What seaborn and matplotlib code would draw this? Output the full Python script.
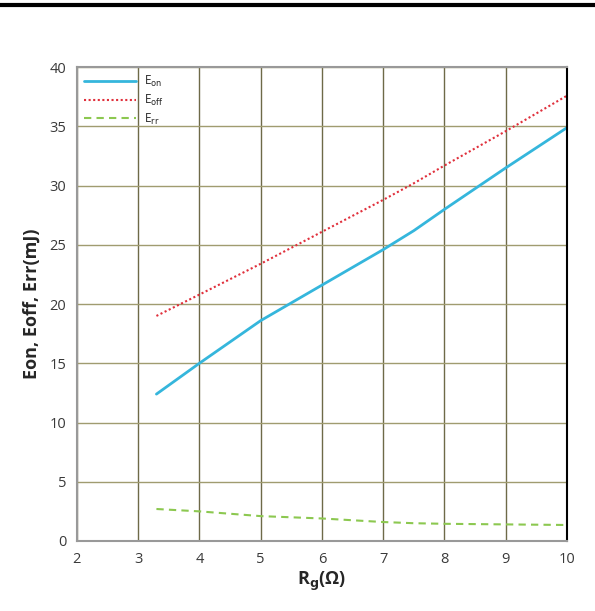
import matplotlib
matplotlib.use("Agg")
import seaborn as sns
import matplotlib.pyplot as plt
from matplotlib.lines import Line2D

# データ
rg = [3.3, 4, 5, 6, 7, 7.5, 8, 9, 10]
eon = [12.4, 15.0, 18.6, 21.6, 24.6, 26.2, 28.0, 31.5, 34.9]
eoff = [19.0, 20.8, 23.4, 26.1, 28.8, 30.2, 31.7, 34.6, 37.6]
err = [2.7, 2.5, 2.1, 1.9, 1.6, 1.5, 1.45, 1.4, 1.35]
x_ticks = [2, 3, 4, 5, 6, 7, 8, 9, 10]
y_ticks = [0, 5, 10, 15, 20, 25, 30, 35, 40]

sns.set_style("white")
plt.rcParams['font.family'] = ['Open Sans', 'DejaVu Sans']

fig = plt.figure(figsize=(5.95, 6.11), dpi=100)
ax = fig.add_axes([0.129, 0.1146, 0.824, 0.7754])

sns.lineplot(x=rg, y=eon, ax=ax, color='#35b6dc', lw=2.0, label='E$_{\\mathrm{on}}$')
sns.lineplot(x=rg, y=eoff, ax=ax, color='#e0303c', lw=1.5, label='E$_{\\mathrm{off}}$')
sns.lineplot(x=rg, y=err, ax=ax, color='#8cc850', lw=1.5, label='E$_{\\mathrm{rr}}$')
ax.lines[1].set_linestyle((0, (1, 1.2)))
ax.lines[2].set_linestyle((0, (3.5, 2.5)))

ax.set_xlim(2, 10)
ax.set_ylim(0, 40)
ax.set_xticks(x_ticks)
ax.set_yticks(y_ticks)
ax.tick_params(axis='both', labelsize=10.5, labelcolor='#3a3a3a', length=4,
               color='#999999', direction='out', width=0.8)
ax.tick_params(axis='x', length=0, pad=8)

# グリッド
ax.grid(True, axis='x', color='#6e6a48', lw=1.0)
ax.grid(True, axis='y', color='#a09c70', lw=1.0)
ax.set_axisbelow(True)
for side in ['left', 'top', 'bottom']:
    ax.spines[side].set_color('#999999')
    ax.spines[side].set_linewidth(1.5)
ax.spines['right'].set_color('black')
ax.spines['right'].set_linewidth(1.5)

ax.set_xlabel('R$_\\mathbf{g}$(Ω)', fontsize=13, fontweight='bold', labelpad=2)
ax.set_ylabel('Eon, Eoff, Err(mJ)', fontsize=13, fontweight='bold', labelpad=6)

leg = ax.legend(loc='upper left', frameon=False, fontsize=8.5, handlelength=4.4,
                borderaxespad=0.2, labelspacing=0.3, handletextpad=0.7)

# 上の黒線
fig.add_artist(Line2D([0, 1], [0.991, 0.991], color='black', lw=3, transform=fig.transFigure))

fig.savefig("out.png", dpi=100)
